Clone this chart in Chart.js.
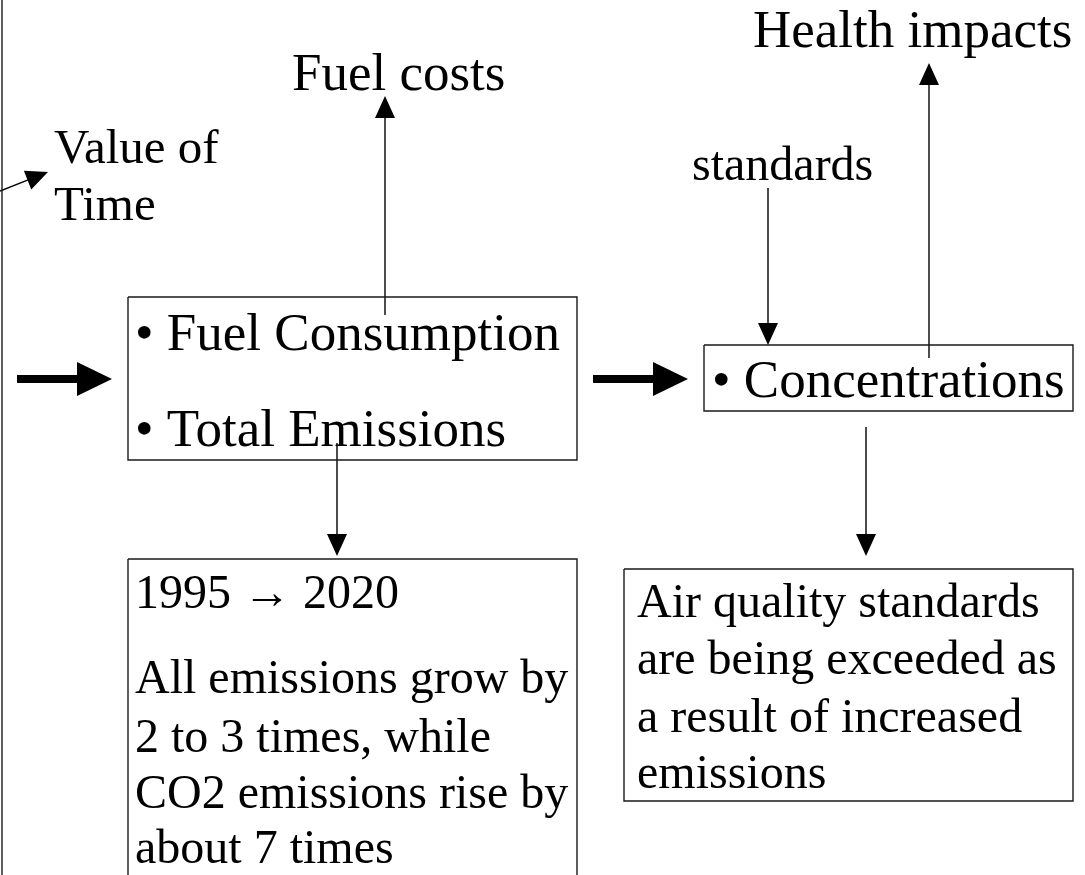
<!DOCTYPE html>
<html><head><meta charset="utf-8">
<script src="https://cdn.jsdelivr.net/npm/chart.js@4"></script>
<style>html,body{margin:0;padding:0;background:#fff;overflow:hidden}#wrap{width:1085px;height:875px}</style>
</head><body><div id="wrap"><canvas id="c" width="1085" height="875"></canvas></div>
<script>
// Diagram geometry in diagram units (x: 0..1085, y: 0..875 downwards)
const boxes = [
  [128, 297, 577, 460],
  [704, 345, 1073, 411],
  [128, 559, 577, 880],
  [624, 569, 1073, 801]
];
const plainLines = [
  [2, -5, 2, 880]
];
const thinArrows = [
  [0, 191, 48, 172],
  [385, 315, 385, 96],
  [929, 358, 929, 63],
  [768, 188, 768, 345],
  [337, 443, 337, 556],
  [866, 427, 866, 556]
];
const thickArrows = [
  [17, 379, 112, 379],
  [593, 379, 688, 379]
];
const labelTexts = [
  "Value of", "Time", "Fuel costs", "Health impacts", "standards",
  "\u2022 Fuel Consumption", "\u2022 Total Emissions", "\u2022 Concentrations",
  "1995 \u2192 2020", "All emissions grow by", "2 to 3 times, while", "CO2 emissions rise by", "about 7 times",
  "Air quality standards", "are being exceeded as", "a result of increased", "emissions"
];
const labelX = [54, 54, 292, 753, 692, 135, 135, 712, 135, 135, 135, 135, 135, 637, 637, 637, 637];
const labelY = [163, 220, 90, 47, 180, 350, 446, 397, 608, 693, 752, 808, 863, 617, 674, 732, 788];
const labelSize = [49, 49, 53, 53, 48, 53, 53, 53, 48, 48, 48, 48, 48, 48, 48, 48, 48];

const datasets = [];
boxes.forEach(b => {
  datasets.push({data: [{x:b[0],y:b[1]},{x:b[2],y:b[1]},{x:b[2],y:b[3]},{x:b[0],y:b[3]},{x:b[0],y:b[1]}],
    showLine: true, borderColor: '#1a1a1a', borderWidth: 1.4, pointRadius: 0, fill: false, tension: 0});
});
plainLines.forEach(l => {
  datasets.push({data: [{x:l[0],y:l[1]},{x:l[2],y:l[3]}], showLine: true, borderColor: '#1a1a1a', borderWidth: 1.4, pointRadius: 0});
});
function shaftEnd(a, head) {
  const dx = a[2]-a[0], dy = a[3]-a[1], L = Math.hypot(dx, dy);
  return {x: a[2] - dx/L*head*0.6, y: a[3] - dy/L*head*0.6};
}
thinArrows.forEach(a => {
  const e = shaftEnd(a, 22);
  datasets.push({data: [{x:a[0],y:a[1]}, e], showLine: true, borderColor: '#000', borderWidth: 1.4, pointRadius: 0});
});
thickArrows.forEach(a => {
  const e = shaftEnd(a, 35);
  datasets.push({data: [{x:a[0],y:a[1]}, e], showLine: true, borderColor: '#000', borderWidth: 8, pointRadius: 0, borderCapStyle: 'butt'});
});

const overlay = {
  id: 'overlay',
  afterDatasetsDraw(chart) {
    const ctx = chart.ctx, xs = chart.scales.x, ys = chart.scales.y;
    const P = (x, y) => ({x: xs.getPixelForValue(x), y: ys.getPixelForValue(y)});
    function head(a, len, wid) {
      const s = P(a[0], a[1]), t = P(a[2], a[3]);
      const dx = t.x - s.x, dy = t.y - s.y, L = Math.hypot(dx, dy);
      const ux = dx/L, uy = dy/L, bx = t.x - ux*len, by = t.y - uy*len;
      ctx.beginPath();
      ctx.moveTo(t.x, t.y);
      ctx.lineTo(bx - uy*wid/2, by + ux*wid/2);
      ctx.lineTo(bx + uy*wid/2, by - ux*wid/2);
      ctx.closePath();
      ctx.fillStyle = '#000';
      ctx.fill();
    }
    ctx.save();
    thinArrows.forEach(a => head(a, 22, 20));
    thickArrows.forEach(a => head(a, 35, 34));
    ctx.fillStyle = '#000';
    ctx.textBaseline = 'alphabetic';
    ctx.textAlign = 'left';
    labelTexts.forEach((t, i) => {
      ctx.font = labelSize[i] + 'px "Liberation Serif", "Times New Roman", serif';
      const p = P(labelX[i], labelY[i]);
      ctx.fillText(t, p.x, p.y);
    });
    ctx.restore();
  }
};

new Chart(document.getElementById('c'), {
  type: 'scatter',
  data: {datasets},
  options: {
    responsive: false,
    animation: false,
    devicePixelRatio: 1,
    layout: {padding: 0},
    plugins: {legend: {display: false}, tooltip: {enabled: false}},
    scales: {
      x: {type: 'linear', min: 0, max: 1085, display: false},
      y: {type: 'linear', min: 0, max: 875, reverse: true, display: false}
    },
    clip: false
  },
  plugins: [overlay]
});
</script></body></html>
